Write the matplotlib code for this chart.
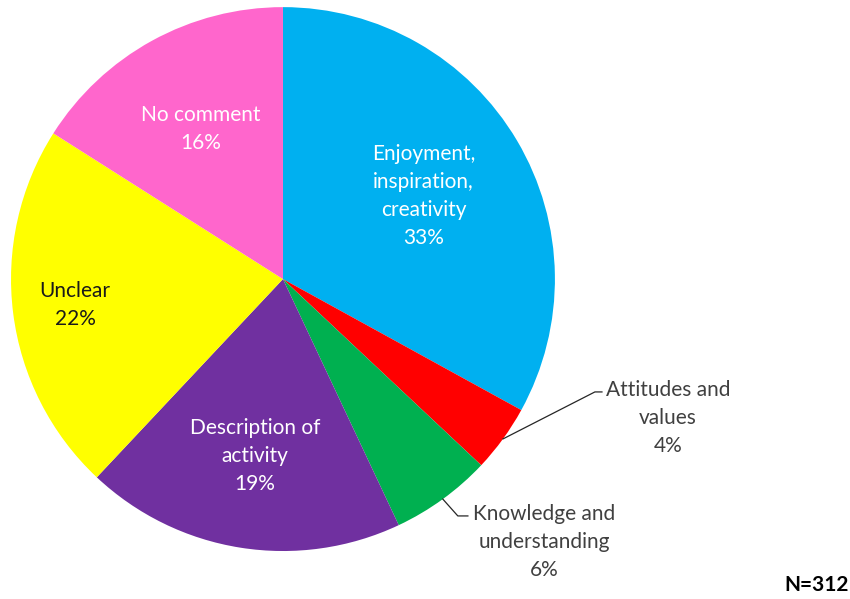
import numpy as np
import matplotlib
matplotlib.use("Agg")
import matplotlib.pyplot as plt

plt.rcParams['font.family'] = ['Lato', 'DejaVu Sans']

categories = ['Enjoyment,\ninspiration,\ncreativity', 'Attitudes and\nvalues',
              'Knowledge and\nunderstanding', 'Description of\nactivity',
              'Unclear', 'No comment']
percents = [33, 4, 6, 19, 22, 16]
colors = ['#00B0F0', '#FF0000', '#00B050', '#7030A0', '#FFFF00', '#FF66CC']
n_total = 312

FS = 15
LS = 1.5

fig = plt.figure(figsize=(8.5, 5.99), dpi=100)
ax = fig.add_axes([0.0129, 0.0801, 0.64, 0.908])
wedges, _ = ax.pie(percents, colors=colors, startangle=90, counterclock=False,
                   wedgeprops=dict(linewidth=0), radius=1.0)
ax.set_xlim(-1, 1)
ax.set_ylim(-1, 1)
ax.axis('off')

# mid angle of each wedge (degrees, matplotlib convention)
mids = [np.deg2rad((w.theta1 + w.theta2) / 2) for w in wedges]

# inside labels: radial distance and text colour
inside = {0: (0.60, 'white'), 3: (0.66, 'white'), 4: (0.77, '#1a1a1a'), 5: (0.63, 'white')}
for i, (r, c) in inside.items():
    x, y = r * np.cos(mids[i]), r * np.sin(mids[i])
    ax.text(x, y, f'{categories[i]}\n{percents[i]}%', ha='center', va='center',
            color=c, fontsize=FS, linespacing=LS)

# outside labels with leader lines
lc = '#404040'
# Attitudes and values
a = mids[1]
x0, y0 = np.cos(a), np.sin(a)
ax.plot([x0, 1.147, 1.173], [y0, -0.415, -0.415], color='#262626', lw=0.9, clip_on=False)
ax.text(1.415, -0.511, f'{categories[1]}\n{percents[1]}%', ha='center', va='center',
        color=lc, fontsize=FS, linespacing=LS, clip_on=False)
# Knowledge and understanding
a = mids[2]
x0, y0 = np.cos(a), np.sin(a)
ax.plot([x0, 0.643, 0.68], [y0, -0.871, -0.871], color='#262626', lw=0.9, clip_on=False)
ax.text(0.96, -0.967, f'{categories[2]}\n{percents[2]}%', ha='center', va='center',
        color=lc, fontsize=FS, linespacing=LS, clip_on=False)

fig.text(0.961, 0.023, f'N={n_total}', ha='center', va='center',
         fontsize=FS, fontweight='bold', color='black')

fig.savefig('out.png', dpi=100)
